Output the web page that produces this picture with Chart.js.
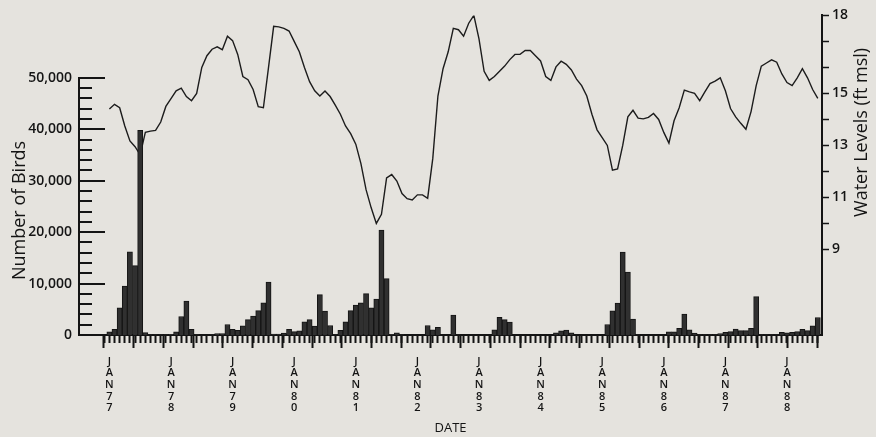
<!DOCTYPE html>
<html>
<head>
<meta charset="utf-8">
<script src="https://cdn.jsdelivr.net/npm/chart.js@4.4.1/dist/chart.umd.min.js"></script>
<style>
  html, body { margin: 0; padding: 0; background: #e5e3de; }
  #wrap { width: 876px; height: 437px; }
</style>
</head>
<body>
<div id="wrap"><canvas id="chart" width="876" height="437"></canvas></div>
<script>
// monthly counts, one value per month starting Jan 1977
const birdCounts = [
  600, 1100, 5300, 9500, 16200, 13500, 39800, 450, 100, 100, 100, 100,
  150, 600, 3600, 6600, 1100, 100, 0, 0, 100, 300, 300, 2050,
  1100, 900, 1800, 3000, 3700, 4750, 6250, 10300, 200, 200, 350, 1100,
  650, 800, 2550, 3000, 1750, 7850, 4650, 1850, 100, 900, 2550, 4750,
  5800, 6250, 8050, 5300, 7000, 20400, 10950, 150, 400, 100, 0, 0,
  0, 0, 1850, 1000, 1500, 0, 0, 3850, 100, 0, 0, 0,
  0, 0, 0, 1000, 3450, 3000, 2500, 0, 0, 0, 0, 0,
  0, 0, 0, 400, 800, 950, 400, 0, 0, 0, 0, 0,
  0, 2050, 4700, 6200, 16150, 12250, 3100, 100, 0, 0, 0, 0,
  0, 600, 600, 1300, 4050, 1000, 350, 100, 100, 100, 100, 300,
  500, 650, 1150, 850, 850, 1300, 7450, 100, 100, 100, 100, 500,
  400, 500, 650, 1100, 850, 1800, 3400
];

// water level (ft msl), same months
const waterLevels = [
  14.40, 14.58, 14.45, 13.75, 13.17, 12.95, 12.64, 13.5, 13.55, 13.58, 13.9, 14.5,
  14.8, 15.1, 15.2, 14.88, 14.72, 15.0, 16.0, 16.45, 16.7, 16.79, 16.68, 17.2,
  17.03, 16.5, 15.65, 15.53, 15.15, 14.49, 14.45, 16.0, 17.58, 17.56, 17.5, 17.4,
  17.0, 16.6, 16.0, 15.45, 15.1, 14.9, 15.09, 14.88, 14.55, 14.2, 13.75, 13.45,
  13.05, 12.3, 11.3, 10.6, 10.0, 10.35, 11.75, 11.88, 11.63, 11.15, 10.95, 10.9,
  11.1, 11.1, 10.97, 12.5, 14.9, 15.95, 16.6, 17.5, 17.45, 17.2, 17.7, 18.0,
  17.1, 15.85, 15.5, 15.65, 15.85, 16.05, 16.3, 16.5, 16.5, 16.65, 16.65, 16.45,
  16.25, 15.65, 15.5, 16.02, 16.24, 16.12, 15.9, 15.55, 15.3, 14.9, 14.2, 13.6,
  13.3, 13.0, 12.05, 12.1, 13.0, 14.1, 14.35, 14.05, 14.02, 14.08, 14.23, 14.0,
  13.5, 13.09, 13.95, 14.45, 15.13, 15.06, 15.0, 14.72, 15.06, 15.38, 15.47, 15.6,
  15.1, 14.42, 14.1, 13.85, 13.62, 14.3, 15.3, 16.05, 16.17, 16.29, 16.2, 15.75,
  15.42, 15.3, 15.6, 15.95, 15.6, 15.15, 14.81
];

const yearLabels = ['JAN77', 'JAN78', 'JAN79', 'JAN80', 'JAN81', 'JAN82',
                    'JAN83', 'JAN84', 'JAN85', 'JAN86', 'JAN87', 'JAN88'];
const birdTicks = [0, 10000, 20000, 30000, 40000, 50000];
const waterTickLabels = [9, 11, 13, 15, 18];

const INK = '#141414';
const FONT = "'Open Sans', 'Noto Sans', sans-serif";
Chart.defaults.font.family = FONT;
Chart.defaults.color = INK;

// axis ranges (left axis line only runs 0..50,000, right axis labels 9..18)
const X_MIN = -4.9, X_MAX = 138.8;
const BIRD_MAX = 62160;
const WATER_MIN = 5.71, WATER_MAX = 18;

const bgPlugin = {
  id: 'bg',
  beforeDraw(chart) {
    const c = chart.ctx;
    c.save();
    c.fillStyle = '#e5e3de';
    c.fillRect(0, 0, chart.width, chart.height);
    c.restore();
  }
};

// left axis: line from 0 to 50,000 with ticks pointing into the plot, plus both axis titles
const axisExtras = {
  id: 'axisExtras',
  afterDraw(chart) {
    const c = chart.ctx;
    const y = chart.scales.y;
    const y2 = chart.scales.y2;
    const left = chart.chartArea.left;
    const top = y.getPixelForValue(birdTicks[birdTicks.length - 1]);
    const bottom = y.getPixelForValue(0);
    c.save();
    c.strokeStyle = INK;
    c.lineWidth = 2;
    c.beginPath();
    c.moveTo(left, bottom + 1);
    c.lineTo(left, top - 1);
    c.stroke();
    for (let v = 0; v <= 50000; v += 2000) {
      const py = Math.round(y.getPixelForValue(v));
      const len = v % 10000 === 0 ? 26 : 13;
      c.beginPath();
      c.moveTo(left, py);
      c.lineTo(left + len, py);
      c.stroke();
    }

    c.fillStyle = INK;
    c.font = "500 18px " + FONT;
    c.textAlign = 'center';
    c.textBaseline = 'middle';
    c.save();
    c.translate(20, (top + bottom) / 2 + 4);
    c.rotate(-Math.PI / 2);
    c.fillText('Number of Birds', 0, 0);
    c.restore();

    c.save();
    c.translate(862, (y2.getPixelForValue(9) + y2.getPixelForValue(18)) / 2);
    c.rotate(-Math.PI / 2);
    c.fillText('Water Levels (ft msl)', 0, 0);
    c.restore();
    c.restore();
  }
};

new Chart(document.getElementById('chart'), {
  type: 'bar',
  data: {
    datasets: [
      {
        type: 'bar',
        label: 'Number of Birds',
        data: birdCounts.map((v, i) => ({ x: i + 0.5, y: v })),
        xAxisID: 'x',
        yAxisID: 'y',
        backgroundColor: '#303030',
        borderColor: INK,
        borderWidth: 1,
        borderSkipped: 'bottom',
        barPercentage: 1,
        categoryPercentage: 1,
        order: 0
      },
      {
        type: 'line',
        label: 'Water Levels',
        data: waterLevels.map((v, i) => ({ x: i + 0.5, y: v })),
        xAxisID: 'x',
        yAxisID: 'y2',
        borderColor: '#1c1c1c',
        borderWidth: 1.4,
        pointRadius: 0,
        tension: 0,
        fill: false,
        order: 1
      }
    ]
  },
  options: {
    responsive: false,
    animation: false,
    layout: { padding: { top: 13, left: 0, right: 0, bottom: 0 } },
    plugins: { legend: { display: false }, tooltip: { enabled: false } },
    scales: {
      x: {
        type: 'linear',
        position: 'bottom',
        weight: 1,
        min: X_MIN,
        max: X_MAX,
        afterBuildTicks: a => {
          const t = [];
          for (let m = 0; m <= Math.floor(X_MAX); m++) t.push({ value: m });
          a.ticks = t;
        },
        grid: { display: true, drawOnChartArea: false, drawTicks: true, tickLength: 8, tickWidth: 2, tickColor: INK },
        border: { display: true, color: INK, width: 2 },
        ticks: {
          autoSkip: false,
          maxRotation: 0,
          minRotation: 0,
          labelOffset: 2.6,
          padding: 13,
          color: INK,
          font: { size: 11, weight: '600', lineHeight: 1.05 },
          callback: v => (v % 12 === 0 && yearLabels[v / 12]) ? yearLabels[v / 12].split('') : ''
        },
        title: { display: true, text: 'DATE', color: INK, font: { size: 13, weight: '500' }, padding: { top: 0, bottom: 1 } },
        afterFit: s => { s.height = 102; }
      },
      x2: {
        type: 'linear',
        position: 'bottom',
        weight: 0,
        min: X_MIN,
        max: X_MAX,
        afterBuildTicks: a => {
          const t = [];
          for (let m = 0; m <= X_MAX; m += 6) t.push({ value: m });
          a.ticks = t;
        },
        grid: { display: true, drawOnChartArea: false, drawTicks: true, tickLength: 13, tickWidth: 2, tickColor: INK },
        border: { display: false },
        ticks: { display: false },
        afterFit: s => { s.height = 0; }
      },
      y: {
        type: 'linear',
        position: 'left',
        min: 0,
        max: BIRD_MAX,
        afterBuildTicks: a => { a.ticks = birdTicks.map(v => ({ value: v })); },
        grid: { display: false, drawTicks: false },
        border: { display: false },
        ticks: {
          padding: 7,
          color: INK,
          font: { size: 14, weight: '600' },
          callback: v => v.toLocaleString('en-US')
        },
        afterFit: s => { s.width = 79; }
      },
      y2: {
        type: 'linear',
        position: 'right',
        min: WATER_MIN,
        max: WATER_MAX,
        afterBuildTicks: a => {
          const t = [];
          for (let v = 9; v <= 18; v += 0.5) t.push({ value: v });
          a.ticks = t;
        },
        grid: { display: true, drawOnChartArea: false, drawTicks: true, tickLength: 7, tickWidth: 1.5, tickColor: INK },
        border: { display: true, color: INK, width: 2 },
        ticks: {
          padding: 3,
          color: INK,
          font: { size: 14, weight: '600' },
          callback: v => waterTickLabels.includes(v) ? String(v) : ''
        },
        afterFit: s => { s.width = 54; }
      }
    }
  },
  plugins: [bgPlugin, axisExtras]
});
</script>
</body>
</html>
